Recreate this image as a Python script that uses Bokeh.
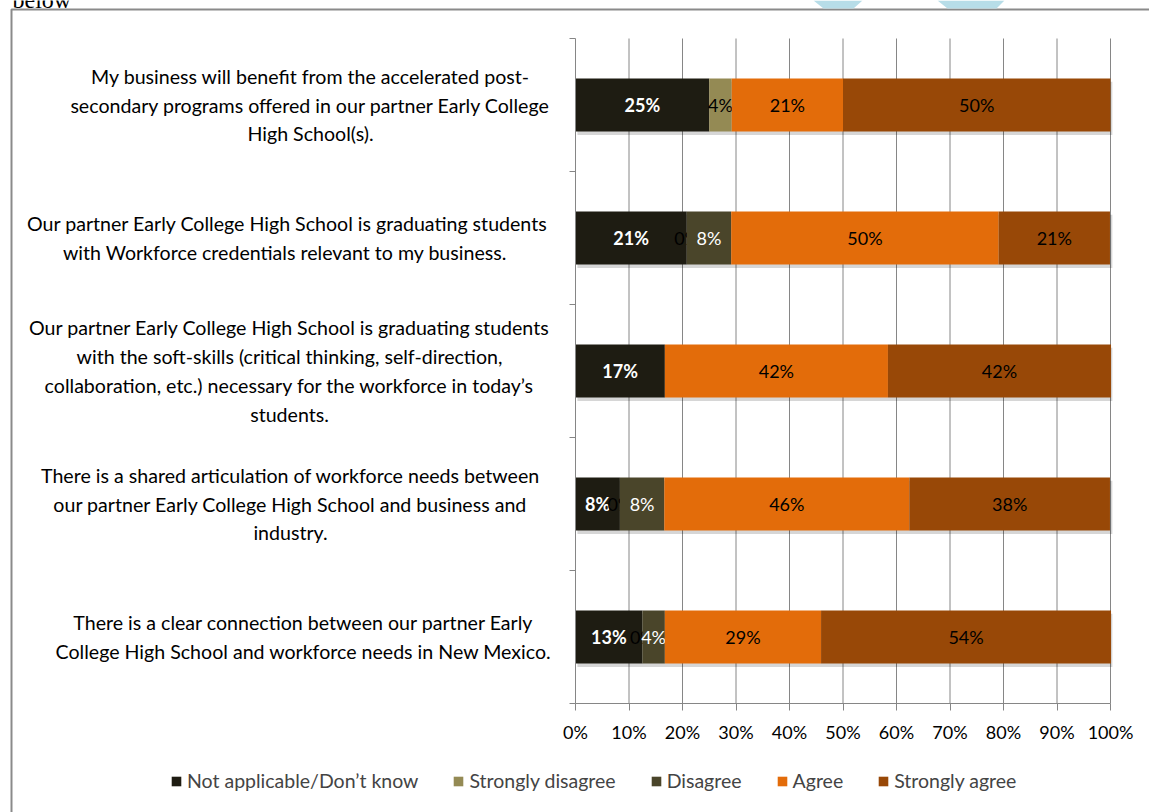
import math
from bokeh.plotting import figure
from bokeh.models import Range1d, FixedTicker, Legend, LegendItem, ColumnDataSource
from bokeh.core.properties import value
from bokeh.embed import file_html
from bokeh.resources import INLINE

nan = float("nan")

categories = [
    "My business will benefit from the accelerated post-\nsecondary programs offered in our partner Early College\nHigh School(s).",
    "Our partner Early College High School is graduating students\nwith Workforce credentials relevant to my  business.",
    "Our partner Early College High School is graduating students\nwith the soft-skills (critical thinking, self-direction,\ncollaboration, etc.) necessary for the workforce in today\u2019s\nstudents.",
    "There is a shared articulation of workforce needs between\nour partner Early College High School and business and\nindustry.",
    "There is a clear connection between our partner Early\nCollege High School and workforce needs in New Mexico.",
]
series_names = ["Not applicable/Don\u2019t know", "Strongly disagree", "Disagree", "Agree", "Strongly agree"]
not_applicable = [25.0, 20.8, 16.7, 8.3, 12.5]
strongly_disagree = [4.2, 0.0, nan, 0.0, 0.0]
disagree = [nan, 8.3, nan, 8.3, 4.2]
agree = [20.8, 50.0, 41.7, 45.8, 29.2]
strongly_agree = [50.0, 20.8, 41.7, 37.5, 54.2]
x_ticks = [0, 10, 20, 30, 40, 50, 60, 70, 80, 90, 100]

series = [not_applicable, strongly_disagree, disagree, agree, strongly_agree]
colors = ["#1e1c12", "#948a54", "#4a452a", "#e36c0a", "#984807"]
label_colors = ["white", "black", "white", "black", "black"]
label_styles = ["bold", "normal", "normal", "normal", "normal"]

FONT = "Lato"
W, H = 1149, 812
FL, FR, FT, FB = 575, 1110, 38, 703   # chart area in page pixels
LABEL_CENTERS = [310, 287, 289, 290, 303]  # horizontal centres of the category texts (px)
n = len(categories)
xs = (FR - FL) / 100.0
ys = (FB - FT) / n


def px(v):
    return (v - FL) / xs


def py(v):
    return (FB - v) / ys


ycent = [n - i - 0.5 for i in range(n)]

p = figure(width=W, height=H, output_backend="svg", toolbar_location=None,
           x_range=Range1d(px(0), px(W)), y_range=Range1d(py(H), py(0)),
           min_border=0, x_axis_location="below", y_axis_location="left")
p.outline_line_color = None
p.background_fill_color = "white"
p.border_fill_color = "white"
p.xgrid.visible = False
p.ygrid.visible = False

# axes at fixed positions
p.xaxis.fixed_location = 0
p.xaxis.bounds = (0, 100)
p.xaxis.ticker = FixedTicker(ticks=x_ticks)
p.xaxis.major_label_overrides = {t: f"{t}%" for t in x_ticks}
p.xaxis.axis_line_color = "#868686"
p.xaxis.major_tick_line_color = "#868686"
p.xaxis.major_tick_in = 0
p.xaxis.major_tick_out = 7
p.xaxis.minor_tick_line_color = None
p.xaxis.major_label_text_font = FONT
p.xaxis.major_label_text_font_size = "18px"
p.xaxis.major_label_text_color = "black"
p.xaxis.major_label_standoff = 10

p.yaxis.fixed_location = 0
p.yaxis.bounds = (0, n)
p.yaxis.ticker = FixedTicker(ticks=list(range(n + 1)))
p.yaxis.major_label_text_font_size = "0px"
p.yaxis.major_label_text_color = None
p.yaxis.axis_line_color = "#868686"
p.yaxis.major_tick_line_color = "#868686"
p.yaxis.major_tick_in = 0
p.yaxis.major_tick_out = 6
p.yaxis.minor_tick_line_color = None

# vertical grid lines over the chart area
p.segment(x0=x_ticks[1:], x1=x_ticks[1:], y0=[0] * (len(x_ticks) - 1), y1=[n] * (len(x_ticks) - 1),
          line_color="#868686", line_width=1, level="underlay")

# bar shadows
p.hbar(y=[c - 0.025 for c in ycent], left=[0.35] * n, right=[100.35] * n, height=0.4,
       fill_color="#000000", fill_alpha=0.16, line_color=None)

left = [0.0] * n
items = []
for k, (vals, col) in enumerate(zip(series, colors)):
    w = [0.0 if math.isnan(v) else v for v in vals]
    right = [l + v for l, v in zip(left, w)]
    src = ColumnDataSource(dict(y=ycent, left=left, right=right))
    r = p.hbar(y="y", left="left", right="right", height=0.4, source=src,
               fill_color=col, line_color=None)
    items.append(LegendItem(label=series_names[k], renderers=[r]))
    lx, ly, lt, lc = [], [], [], []
    for i, v in enumerate(vals):
        if math.isnan(v):
            continue
        lx.append(left[i] + v / 2)
        ly.append(ycent[i])
        lt.append(f"{math.floor(v + 0.5)}%")
        lc.append("black" if v == 0 else label_colors[k])
    p.text(x=lx, y=ly, text=lt, text_color=lc, text_align="center", text_baseline="middle",
           text_font=value(FONT), text_font_size="18px", text_font_style=label_styles[k])
    left = right

# category labels, left of the chart
p.text(x=[px(c) for c in LABEL_CENTERS], y=ycent, text=categories, text_align="center",
       text_baseline="middle", text_font=value(FONT), text_font_size="19.6px",
       text_color="black", text_line_height=1.25)

# outer frame lines (left and top) of the surrounding box
p.line(x=[px(11), px(11), px(W + 5)], y=[py(H + 5), py(9), py(9)], line_color="#8a8a8a", line_width=2)

# page decoration above the box
p.text(x=[px(12)], y=[py(-1)], text=["below"], text_font=value("Liberation Serif"),
       text_font_size="24px", text_baseline="alphabetic", text_color="black")
p.patches(xs=[[px(813), px(862), px(853), px(823)], [px(937), px(1004), px(996), px(947)]],
          ys=[[py(0), py(0), py(8), py(8)], [py(0), py(0), py(8), py(8)]],
          fill_color="#b7dde8", line_color=None)

legend = Legend(items=items, orientation="horizontal", location=(170, 20),
                glyph_width=12, glyph_height=12, label_standoff=5, spacing=34,
                padding=0, margin=0, border_line_color=None, background_fill_alpha=0,
                label_text_font=FONT, label_text_font_size="19.5px", label_height=20)
p.add_layout(legend, "center")

open("out.html", "w").write(file_html(p, INLINE))
